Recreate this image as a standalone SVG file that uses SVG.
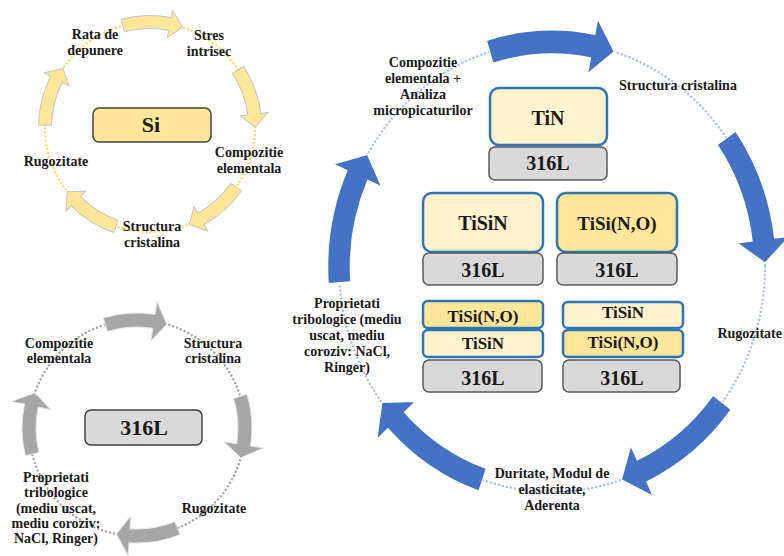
<svg xmlns="http://www.w3.org/2000/svg" width="784" height="556" viewBox="0 0 784 556">
<style>
text{font-family:"Liberation Serif","Times New Roman",serif;font-weight:bold;fill:#1a1a1a;text-anchor:middle}
.lbl{font-size:14px}
.big{font-size:20px}
.mid{font-size:17px}
.dots{fill:none;stroke-linecap:round;stroke-width:2.4;stroke-dasharray:0.1 4}
.coat{stroke:#2E75B6;stroke-width:2.5}
.c1{fill:#FFF2CC}
.c2{fill:#FFE699}
.sub{fill:#D9D9D9;stroke:#595959;stroke-width:1.5}
</style>
<defs>
<path id="arY" d="M-28.86,-107.7 A111.5,111.5 0 0 1 21.27,-109.45 L22.71,-116.81 L32.45,-99.86 L17.36,-89.33 L18.79,-96.69 A98.5,98.5 0 0 0 -25.49,-95.14 Z"/>
<path id="arG" d="M-33.63,-109.97 A115,115 0 0 1 17.99,-113.59 L20.02,-126.43 L29.76,-103.82 L13.76,-86.92 L15.8,-99.76 A101,101 0 0 0 -29.53,-96.59 Z"/>
<path id="arB" vector-effect="non-scaling-stroke" d="M-69.3,-226.6 A237,237 0 0 1 45.2,-232.6 L48.3,-248.3 L65.8,-215.2 L37.6,-193.4 L40.6,-209.1 A213,213 0 0 0 -62.3,-203.7 Z"/>
</defs>
<rect width="784" height="556" fill="#fff"/>
<g id="connectors">
  <circle class="dots" cx="150" cy="127" r="105" stroke="#FFD966"/>
  <g transform="translate(150 127)" fill="#FFE699" stroke="#C4C4C4" stroke-width="1">
    <use href="#arY"/>
    <use href="#arY" transform="rotate(72)"/>
    <use href="#arY" transform="rotate(140)"/>
    <use href="#arY" transform="rotate(214)"/>
    <use href="#arY" transform="rotate(286)"/>
  </g>
  <circle class="dots" cx="137" cy="428" r="108" stroke="#A6A6A6"/>
  <g transform="translate(137 428)" fill="#A6A6A6" stroke="#E6E6E6" stroke-width="1">
    <use href="#arG"/>
    <use href="#arG" transform="rotate(90)"/>
    <use href="#arG" transform="rotate(175)"/>
    <use href="#arG" transform="rotate(273)"/>
  </g>
  <ellipse class="dots" cx="552" cy="267" rx="213" ry="225" stroke="#A9C2E8"/>
  <g transform="translate(552 267) scale(0.9467 1)" fill="#4472C4" stroke="#ffffff" stroke-width="1.2">
    <use href="#arB"/>
    <use href="#arB" transform="rotate(72)"/>
    <use href="#arB" transform="rotate(144)"/>
    <use href="#arB" transform="rotate(216)"/>
    <use href="#arB" transform="rotate(283)"/>
  </g>
</g>

<g id="si-cycle">
  <g id="node-si">
    <rect x="93" y="108" width="118" height="34" rx="6" fill="#FFE699" stroke="#404040" stroke-width="1.5"/>
    <text class="big" x="151" y="132" style="font-size:22px">Si</text>
  </g>
  <g id="si-rata"><text class="lbl" x="95" y="39">Rata de</text><text class="lbl" x="95" y="55">depunere</text></g>
  <g id="si-stres"><text class="lbl" x="209" y="40">Stres</text><text class="lbl" x="209" y="56">intrisec</text></g>
  <g id="si-comp"><text class="lbl" x="249" y="157">Compozitie</text><text class="lbl" x="249" y="173">elementala</text></g>
  <g id="si-struct"><text class="lbl" x="152" y="231">Structura</text><text class="lbl" x="152" y="247">cristalina</text></g>
  <g id="si-rug"><text class="lbl" x="56" y="166">Rugozitate</text></g>
</g>

<g id="ss-cycle">
  <g id="node-316l">
    <rect x="85" y="410" width="117" height="35" rx="6" fill="#D9D9D9" stroke="#404040" stroke-width="1.5"/>
    <text class="big" x="144" y="435" style="font-size:22px">316L</text>
  </g>
  <g id="ss-comp"><text class="lbl" x="59" y="348">Compozitie</text><text class="lbl" x="59" y="363">elementala</text></g>
  <g id="ss-struct"><text class="lbl" x="213" y="348">Structura</text><text class="lbl" x="213" y="363">cristalina</text></g>
  <g id="ss-rug"><text class="lbl" x="214" y="513">Rugozitate</text></g>
  <g id="ss-trib">
    <text class="lbl" x="56" y="482">Proprietati</text>
    <text class="lbl" x="56" y="497">tribologice</text>
    <text class="lbl" x="56" y="513">(mediu uscat,</text>
    <text class="lbl" x="56" y="528">mediu coroziv:</text>
    <text class="lbl" x="56" y="543">NaCl, Ringer)</text>
  </g>
</g>

<g id="coat-cycle">
  <g id="stack-tin">
    <rect class="coat c1" x="490" y="88" width="117" height="57" rx="9"/>
    <text class="big" x="548" y="125">TiN</text>
    <rect class="sub" x="489" y="147" width="118" height="33" rx="6"/>
    <text class="big" x="548" y="170">316L</text>
  </g>
  <g id="stack-tisin">
    <rect class="coat c1" x="423" y="193" width="120" height="59" rx="9"/>
    <text class="big" x="483" y="230">TiSiN</text>
    <rect class="sub" x="423" y="253" width="120" height="32" rx="6"/>
    <text class="big" x="483" y="277">316L</text>
  </g>
  <g id="stack-tisino">
    <rect class="coat c2" x="557" y="193" width="120" height="59" rx="9"/>
    <text class="big" x="617" y="230" style="font-size:19px">TiSi(N,O)</text>
    <rect class="sub" x="557" y="253" width="120" height="32" rx="6"/>
    <text class="big" x="617" y="277">316L</text>
  </g>
  <g id="stack-ml1">
    <rect class="coat c2" x="423" y="301" width="120" height="27" rx="5"/>
    <text class="mid" x="483" y="322">TiSi(N,O)</text>
    <rect class="coat c1" x="423" y="330" width="120" height="27" rx="5"/>
    <text class="mid" x="483" y="349">TiSiN</text>
    <rect class="sub" x="423" y="360" width="119" height="32" rx="6"/>
    <text class="big" x="483" y="385">316L</text>
  </g>
  <g id="stack-ml2">
    <rect class="coat c1" x="563" y="302" width="120" height="26" rx="5"/>
    <text class="mid" x="623" y="318">TiSiN</text>
    <rect class="coat c2" x="563" y="330" width="120" height="27" rx="5"/>
    <text class="mid" x="623" y="348">TiSi(N,O)</text>
    <rect class="sub" x="563" y="360" width="117" height="32" rx="6"/>
    <text class="big" x="622" y="385">316L</text>
  </g>
  <g id="c-comp">
    <text class="lbl" x="423" y="67">Compozitie</text>
    <text class="lbl" x="423" y="83">elementala +</text>
    <text class="lbl" x="423" y="99">Analiza</text>
    <text class="lbl" x="423" y="115">micropicaturilor</text>
  </g>
  <g id="c-struct"><text class="lbl" x="678" y="90">Structura cristalina</text></g>
  <g id="c-rug"><text class="lbl" x="782" y="338" style="text-anchor:end">Rugozitate</text></g>
  <g id="c-dur">
    <text class="lbl" x="552" y="478">Duritate, Modul de</text>
    <text class="lbl" x="552" y="494">elasticitate,</text>
    <text class="lbl" x="552" y="510">Aderenta</text>
  </g>
  <g id="c-trib">
    <text class="lbl" x="347" y="308">Proprietati</text>
    <text class="lbl" x="347" y="324">tribologice (mediu</text>
    <text class="lbl" x="347" y="340">uscat, mediu</text>
    <text class="lbl" x="347" y="356">coroziv: NaCl,</text>
    <text class="lbl" x="347" y="372">Ringer)</text>
  </g>
</g>
</svg>
